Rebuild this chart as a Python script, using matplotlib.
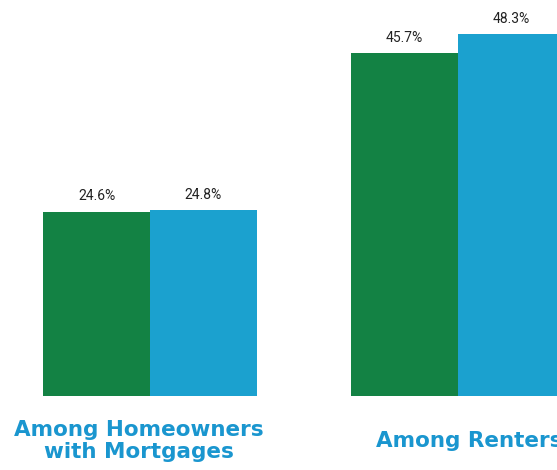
import numpy as np
import matplotlib.pyplot as plt

# Data
groups = ["Among Homeowners\nwith Mortgages", "Among Renters"]
series_a = [24.6, 45.7]
series_b = [24.8, 48.3]
colors = ["#138244", "#1ba1cf"]

fig = plt.figure(figsize=(5.57, 4.70), dpi=100)
ax = fig.add_axes([0, 0.157, 1, 0.843])

x = np.arange(len(groups))
w = 0.347
bars_a = ax.bar(x - w / 2, series_a, w, color=colors[0])
bars_b = ax.bar(x + w / 2, series_b, w, color=colors[1])

for bars, vals in [(bars_a, series_a), (bars_b, series_b)]:
    for b, v in zip(bars, vals):
        ax.text(b.get_x() + b.get_width() / 2, v + 1.1, f"{v}%",
                ha="center", va="bottom", fontsize=10, color="#222222",
                family="Roboto")

# category labels under the bars, centred on the same line
label_x = [-0.036, 1.035]
for lx, g in zip(label_x, groups):
    ax.text(lx, -6.0, g, ha="center", va="center", fontsize=15.5,
            fontweight="bold", color="#1a96cf", linespacing=1.15,
            family="DejaVu Sans")

ax.set_xlim(-0.487, 1.321)
ax.set_ylim(0, 52.8)
ax.axis("off")

fig.savefig("out.png", dpi=100)
